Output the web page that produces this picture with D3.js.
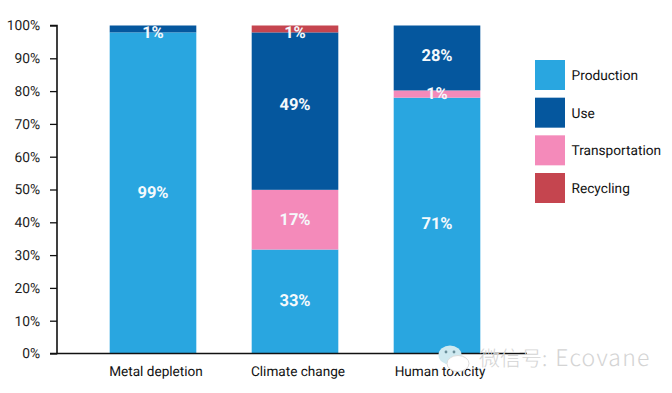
<!DOCTYPE html>
<html><head><meta charset="utf-8">
<script src="https://cdn.jsdelivr.net/npm/d3@7"></script>
<style>html,body{margin:0;padding:0;background:#fff}svg{display:block}text{font-family:Roboto,sans-serif;text-rendering:geometricPrecision}</style>
</head><body><svg id="c" width="672" height="393"></svg>
<script>
const categories = ["Metal depletion","Climate change","Human toxicity"];
const seriesNames = ["Production","Use","Transportation","Recycling"];
const stackOrder = ["Production","Transportation","Use","Recycling"];
const production = [97.9,31.7,78.0];
const transportation = [0,18.2,2.2];
const use = [2.1,48.0,19.8];
const recycling = [0,2.1,0];
const productionLabels = ["99%","33%","71%"];
const transportationLabels = [null,"17%","1%"];
const useLabels = ["1%","49%","28%"];
const recyclingLabels = [null,"1%",null];
const productionLabelAt = [49.3,16.2,39.7];
const transportationLabelAt = [null,40.9,79.3];
const useLabelAt = [97.9,76.1,91.0];
const recyclingLabelAt = [null,97.9,null];
const yTicks = [0,10,20,30,40,50,60,70,80,90,100];
const colors = {Production:"#29a6e0",Use:"#05579e",Transportation:"#f48aba",Recycling:"#c5454f"};

const valuesBy = {Production:production,Transportation:transportation,Use:use,Recycling:recycling};
const labelsBy = {Production:productionLabels,Transportation:transportationLabels,Use:useLabels,Recycling:recyclingLabels};
const labelAtBy = {Production:productionLabelAt,Transportation:transportationLabelAt,Use:useLabelAt,Recycling:recyclingLabelAt};

const svg = d3.select("#c");
const x = d3.scaleBand().domain(categories).range([82,508]).paddingInner(0.39).paddingOuter(0.195);
const y = d3.scaleLinear().domain([0,100]).range([353.5,25.5]);
const table = categories.map((c,i)=>{const o={category:c};stackOrder.forEach(s=>o[s]=valuesBy[s][i]);return o;});
const stacked = d3.stack().keys(stackOrder)(table);

svg.append("g").selectAll("g").data(stacked).join("g").attr("fill",d=>colors[d.key])
  .selectAll("rect").data(d=>d).join("rect")
  .attr("x",d=>x(d.data.category)).attr("width",x.bandwidth())
  .attr("y",d=>y(d[1])).attr("height",d=>y(d[0])-y(d[1]));

const yAxis = d3.axisLeft(y).tickValues(yTicks).tickFormat(d=>d+"%").tickSize(7).tickPadding(10);
const gy = svg.append("g").attr("transform","translate(57,0)").call(yAxis);
gy.select(".domain").attr("stroke","#111").attr("stroke-width",1.6).attr("d","M-7,25.5H0V353.5H-7");
gy.selectAll(".tick line").attr("stroke","#111").attr("stroke-width",1.3);
gy.selectAll(".tick text").attr("font-size",13.8).attr("fill","#222").style("font-family","Roboto,sans-serif");

const xAxis = d3.axisBottom(x).tickSize(0).tickPadding(13);
const gx = svg.append("g").attr("transform","translate(0,353.5)").call(xAxis);
gx.select(".domain").attr("stroke","#111").attr("stroke-width",1.6).attr("d","M57,0H527");
gx.selectAll(".tick text").attr("font-size",13.6).attr("dx",3).attr("fill","#111").style("font-family","Roboto,sans-serif");

stackOrder.forEach(s=>{
  svg.append("g").selectAll("text").data(categories.map((c,i)=>({c,t:labelsBy[s][i],p:labelAtBy[s][i]})).filter(d=>d.t))
    .join("text").attr("x",d=>x(d.c)+x.bandwidth()/2).attr("y",d=>y(d.p)).attr("dy","0.36em")
    .attr("text-anchor","middle").attr("font-size",16.5).attr("font-weight",700).attr("fill","#f4f9fc").text(d=>d.t);
});

const legendY = d3.scalePoint().domain(seriesNames).range([60,173]);
const leg = svg.append("g").selectAll("g").data(seriesNames).join("g").attr("transform",d=>`translate(535,${legendY(d)})`);
leg.append("rect").attr("width",30).attr("height",30).attr("fill",d=>colors[d]);
leg.append("text").attr("x",36.5).attr("y",15).attr("dy","0.36em").attr("font-size",13.7).attr("fill","#111").text(d=>d);

// watermark
const wm = svg.append("g");
wm.append("ellipse").attr("cx",450).attr("cy",355).attr("rx",11.5).attr("ry",9.5).attr("fill","#cfe9f0");
wm.append("circle").attr("cx",446).attr("cy",352).attr("r",1.4).attr("fill","#6b8f9a");
wm.append("circle").attr("cx",454).attr("cy",352).attr("r",1.4).attr("fill","#6b8f9a");
wm.append("ellipse").attr("cx",458).attr("cy",363.5).attr("rx",11).attr("ry",8).attr("fill","#fff").attr("stroke","#ddd");
const wt = wm.append("text").attr("x",479).attr("y",366).attr("fill","#d4d4d4").attr("font-weight",300)
  .style("font-family","'Noto Sans CJK SC',sans-serif");
wt.append("tspan").attr("font-size",21).text("微信号:");
wt.append("tspan").attr("dx",8).attr("font-size",23).attr("letter-spacing",1.2).text("Ecovane");
</script></body></html>
